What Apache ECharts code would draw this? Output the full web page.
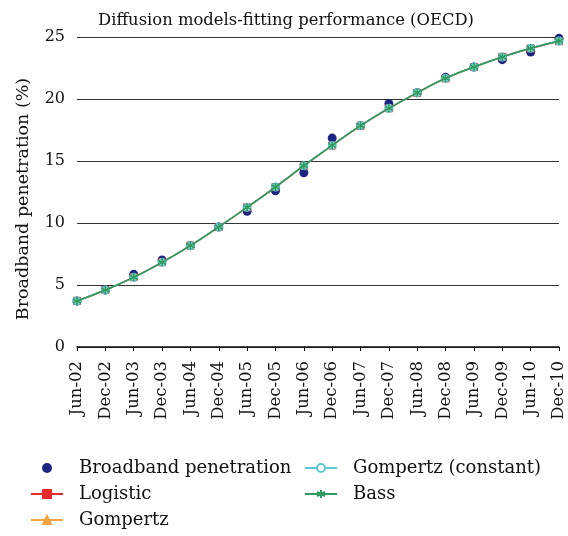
<!DOCTYPE html>
<html>
<head>
<meta charset="utf-8">
<script src="https://cdn.jsdelivr.net/npm/echarts@6/dist/echarts.min.js"></script>
<style>
  html, body { margin: 0; padding: 0; background: #fff; }
  #chart { width: 568px; height: 536px; }
</style>
</head>
<body>
<div id="chart"></div>
<script>
var months = ['Jun-02', 'Dec-02', 'Jun-03', 'Dec-03', 'Jun-04', 'Dec-04', 'Jun-05', 'Dec-05', 'Jun-06',
  'Dec-06', 'Jun-07', 'Dec-07', 'Jun-08', 'Dec-08', 'Jun-09', 'Dec-09', 'Jun-10', 'Dec-10']

// observed OECD broadband penetration (%)
var observed = [3.7, 4.6, 5.86, 7.02, 8.17, 9.68, 10.94, 12.6, 14.05, 16.85, 17.85, 19.62, 20.5, 21.75, 22.58, 23.17, 23.79, 24.89]

// fitted curves (all four lie practically on top of each other)
var logistic = [3.72, 4.6, 5.63, 6.84, 8.18, 9.68, 11.26, 12.9, 14.6, 16.25, 17.84, 19.25, 20.5, 21.66, 22.58, 23.4, 24.08, 24.66]
var gompertz = [3.71, 4.6, 5.62, 6.83, 8.17, 9.68, 11.26, 12.9, 14.62, 16.26, 17.85, 19.25, 20.51, 21.67, 22.58, 23.39, 24.09, 24.68]
var gompertzConst = [3.71, 4.6, 5.62, 6.83, 8.17, 9.68, 11.26, 12.9, 14.62, 16.26, 17.85, 19.25, 20.51, 21.67, 22.58, 23.39, 24.09, 24.68]
var bass = [3.71, 4.6, 5.62, 6.83, 8.17, 9.68, 11.26, 12.9, 14.62, 16.26, 17.85, 19.25, 20.51, 21.67, 22.58, 23.39, 24.09, 24.68]

var yTicks = [0, 5, 10, 15, 20, 25]

var font = 'DejaVu Serif'
var asterisk = 'path://M0,-10L0,10M-8.7,-5L8.7,5M-8.7,5L8.7,-5'

function fitLine(name, data, color, symbol, size) {
  return {
    name: name,
    type: 'line',
    data: data,
    smooth: true,
    symbol: symbol,
    symbolSize: size,
    showAllSymbol: true,
    lineStyle: { color: color, width: 1.5 },
    itemStyle: { color: color, borderColor: color, borderWidth: 1 }
  }
}

var legendText = { fontFamily: font, fontSize: 18, color: '#111', padding: [0, 0, 0, 11] }

var myChart = echarts.init(document.getElementById('chart'))
myChart.setOption({
  backgroundColor: '#fff',
  animation: false,
  title: {
    text: 'Diffusion models-fitting performance (OECD)',
    left: 281,
    textAlign: 'center',
    top: 8,
    textStyle: { fontFamily: font, fontWeight: 'normal', fontSize: 16.4, color: '#111' }
  },
  legend: [{
    left: 30,
    top: 459,
    padding: 0,
    height: 77,
    orient: 'vertical',
    itemGap: 8,
    itemWidth: 32,
    itemHeight: 10,
    textStyle: legendText,
    data: ['Broadband penetration', 'Logistic', 'Gompertz']
  }, {
    left: 304,
    top: 459,
    padding: 0,
    orient: 'vertical',
    itemGap: 8,
    itemWidth: 32,
    itemHeight: 10,
    textStyle: legendText,
    data: ['Gompertz (constant)', 'Bass']
  }],
  grid: {
    left: 77,
    right: 9,
    top: 37,
    bottom: 189
  },
  xAxis: {
    type: 'category',
    data: months,
    boundaryGap: false,
    axisLine: { lineStyle: { color: '#111', width: 1.5 } },
    axisTick: { show: true, length: 4, lineStyle: { color: '#111' } },
    axisLabel: { rotate: 90, interval: 0, margin: 14, fontFamily: font, fontSize: 16.5, color: '#111' }
  },
  yAxis: {
    type: 'value',
    min: yTicks[0],
    max: yTicks[yTicks.length - 1],
    interval: 5,
    name: 'Broadband penetration (%)',
    nameLocation: 'center',
    nameGap: 45,
    nameTextStyle: { fontFamily: font, fontSize: 17.5, color: '#111', padding: [0, 14, 0, 0] },
    axisLine: { show: false },
    axisTick: { show: false },
    axisLabel: { margin: 12, fontFamily: font, fontSize: 16, color: '#111' },
    splitLine: { lineStyle: { color: '#333', width: 1.2 } }
  },
  series: [
    {
      name: 'Broadband penetration',
      type: 'scatter',
      data: observed,
      symbol: 'circle',
      symbolSize: 9,
      itemStyle: { color: '#1b2680', opacity: 1 },
      z: 2
    },
    fitLine('Logistic', logistic, '#e8282b', 'rect', 7),
    fitLine('Gompertz', gompertz, '#f5a347', 'triangle', 6),
    fitLine('Gompertz (constant)', gompertzConst, '#5cc7d2', 'emptyCircle', 7),
    Object.assign(fitLine('Bass', bass, '#2f9a5d', asterisk, 8), {
      z: 4,
      itemStyle: { color: '#2f9a5d', borderColor: '#2f9a5d', borderWidth: 1.6 }
    })
  ]
})
</script>
</body>
</html>
